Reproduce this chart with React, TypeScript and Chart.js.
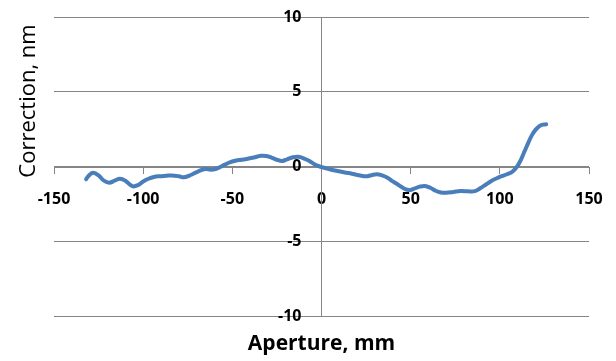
import React, { useEffect, useRef } from "react";
import { Chart, registerables } from "chart.js";

Chart.register(...registerables);

// Aperture position along the measured profile (mm)
const aperture: number[] = [
  -132, -130, -128, -125, -122, -119, -116, -113, -110, -106, -103, -100, -97, -94, -91, -87,
  -84, -80, -77, -73, -69, -65, -62, -59, -56, -52, -49, -45, -42, -38, -34, -31, -28, -25,
  -22, -19, -16, -13, -10, -7, -4, -1, 2, 5, 9, 13, 17, 21, 25, 28, 31, 34, 37, 40, 43, 46,
  49, 52, 55, 58, 61, 64, 67, 70, 74, 78, 82, 86, 89, 92, 95, 98, 101, 104, 107, 110, 112,
  114, 116, 118, 120, 122, 124, 126,
];

// Applied correction at each aperture position (nm)
const correction: number[] = [
  -0.85, -0.55, -0.42, -0.6, -0.95, -1.08, -0.95, -0.82, -0.95, -1.32, -1.25, -1.0, -0.82,
  -0.7, -0.65, -0.62, -0.6, -0.65, -0.72, -0.55, -0.32, -0.17, -0.22, -0.15, 0.02, 0.25, 0.37,
  0.45, 0.5, 0.6, 0.72, 0.7, 0.6, 0.45, 0.37, 0.5, 0.62, 0.65, 0.55, 0.38, 0.15, 0.0, -0.1,
  -0.2, -0.3, -0.4, -0.48, -0.58, -0.66, -0.58, -0.52, -0.6, -0.75, -1.0, -1.22, -1.45, -1.58,
  -1.48, -1.35, -1.3, -1.42, -1.62, -1.74, -1.76, -1.7, -1.64, -1.66, -1.65, -1.45, -1.22,
  -0.98, -0.8, -0.65, -0.52, -0.35, 0.05, 0.5, 1.05, 1.6, 2.1, 2.45, 2.68, 2.8, 2.82,
];

const xTitle = "Aperture, mm";
const yTitle = "Correction, nm";

const FONT = "'Open Sans', 'Liberation Sans', sans-serif";
const AXIS_GREY = "#868686";

// Draws both axis titles on the canvas
const axisTitles = {
  id: "axisTitles",
  afterDraw(chart: Chart) {
    const { ctx, chartArea } = chart;
    ctx.save();
    ctx.fillStyle = "#000";
    ctx.textAlign = "center";
    ctx.textBaseline = "middle";
    ctx.font = `bold 21px ${FONT}`;
    ctx.fillText(xTitle, (chartArea.left + chartArea.right) / 2, 344);
    ctx.translate(29, 101);
    ctx.rotate(-Math.PI / 2);
    ctx.font = `22px ${FONT}`;
    ctx.fillText(yTitle, 0, 0);
    ctx.restore();
  },
};

export default function App() {
  const canvasRef = useRef<HTMLCanvasElement | null>(null);

  useEffect(() => {
    if (!canvasRef.current) return;
    const points = aperture.map((x, i) => ({ x, y: correction[i] }));
    const chart = new Chart(canvasRef.current, {
      type: "line",
      data: {
        datasets: [
          {
            data: points,
            borderColor: "#4A7EBB",
            borderWidth: 4,
            borderCapStyle: "round",
            borderJoinStyle: "round",
            pointRadius: 0,
            tension: 0.4,
            fill: false,
          },
        ],
      },
      options: {
        responsive: false,
        animation: false,
        layout: { padding: { left: 54, right: 27, top: 17, bottom: 45 } },
        plugins: { legend: { display: false }, tooltip: { enabled: false } },
        scales: {
          x: {
            type: "linear",
            position: "center",
            min: -150,
            max: 150,
            ticks: {
              stepSize: 50,
              padding: 0,
              color: "#000",
              font: { family: FONT, size: 16, weight: "bold" },
            },
            grid: {
              drawOnChartArea: false,
              drawTicks: true,
              // long tick slot keeps the labels clear of the axis; only the first 6px are inked
              tickLength: 23,
              tickBorderDash: [6, 40],
              tickColor: AXIS_GREY,
              color: AXIS_GREY,
            },
            border: { color: AXIS_GREY, width: 1 },
          },
          y: {
            type: "linear",
            position: "center",
            min: -10,
            max: 10,
            ticks: {
              stepSize: 5,
              padding: 0,
              color: "#000",
              font: { family: FONT, size: 16, weight: "bold" },
            },
            grid: {
              drawTicks: true,
              tickLength: 20,
              tickColor: "rgba(0,0,0,0)",
              color: AXIS_GREY,
            },
            border: { color: AXIS_GREY, width: 1 },
          },
        },
      },
      plugins: [axisTitles],
    });
    return () => chart.destroy();
  }, []);

  return (
    <div style={{ position: "fixed", left: 0, top: 0, width: 616, height: 361, background: "#fff" }}>
      <canvas ref={canvasRef} width={616} height={361} />
    </div>
  );
}
